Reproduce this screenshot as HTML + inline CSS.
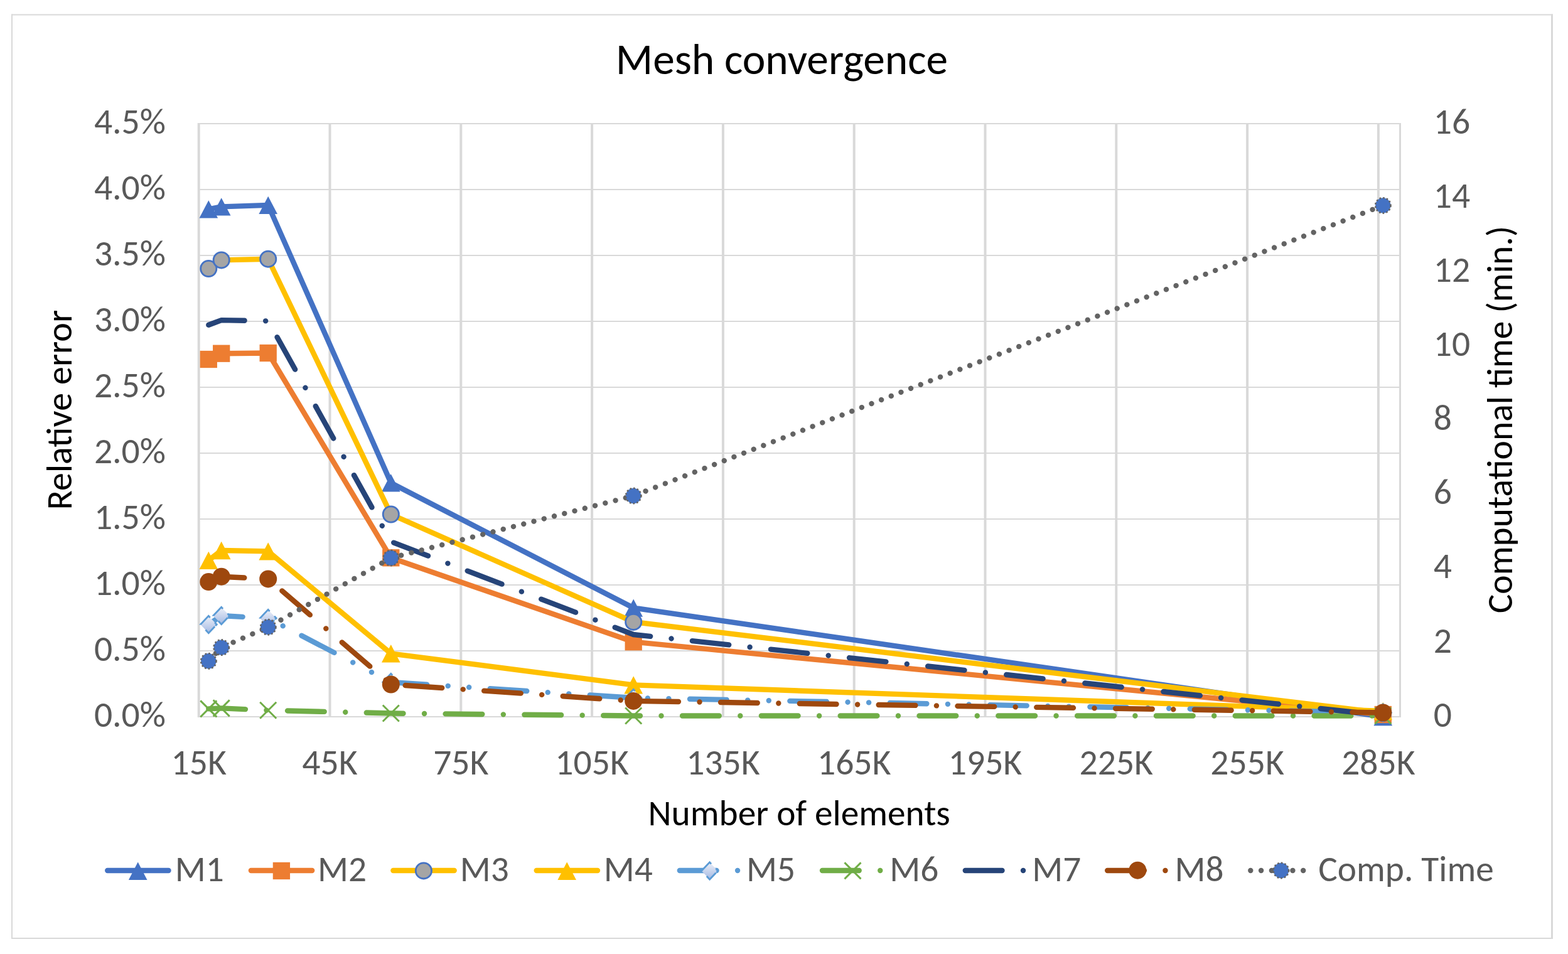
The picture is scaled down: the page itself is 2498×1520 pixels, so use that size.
<!DOCTYPE html>
<html><head><meta charset="utf-8"><title>Mesh convergence</title>
<style>html,body{margin:0;padding:0;background:#fff;}svg{display:block;}text{font-family:Carlito,"Liberation Sans",sans-serif;font-size-adjust:0.47754;}</style></head><body>
<svg width="2498" height="1520" viewBox="0 0 2498 1520">
<defs><linearGradient id="dg" x1="0" y1="0" x2="0" y2="1"><stop offset="0" stop-color="#EEF1F9"/><stop offset="1" stop-color="#A3B8E2"/></linearGradient></defs>
<rect x="0" y="0" width="2498" height="1520" fill="#FFFFFF"/>
<g fill="#D9D9D9">
<rect x="18" y="22.5" width="2456" height="2"/>
<rect x="18" y="1494" width="2456" height="2"/>
<rect x="18" y="22.5" width="2" height="1473.5"/>
<rect x="2471" y="22.5" width="3" height="1473.5"/>
</g>
<g fill="#D9D9D9">
<rect x="315" y="196" width="1917" height="2"/>
<rect x="315" y="301" width="1917" height="2"/>
<rect x="315" y="406" width="1917" height="2"/>
<rect x="315" y="511" width="1917" height="2"/>
<rect x="315" y="616" width="1917" height="2"/>
<rect x="315" y="721" width="1917" height="2"/>
<rect x="315" y="826" width="1917" height="2"/>
<rect x="315" y="931" width="1917" height="2"/>
<rect x="315" y="1036" width="1917" height="2"/>
<rect x="315" y="1141" width="1917" height="2"/>
<rect x="314.7" y="196" width="4" height="947"/>
<rect x="523.5" y="196" width="4" height="947"/>
<rect x="732.3" y="196" width="4" height="947"/>
<rect x="941.1" y="196" width="4" height="947"/>
<rect x="1149.9" y="196" width="4" height="947"/>
<rect x="1358.7" y="196" width="4" height="947"/>
<rect x="1567.5" y="196" width="4" height="947"/>
<rect x="1776.3" y="196" width="4" height="947"/>
<rect x="1985.1" y="196" width="4" height="947"/>
<rect x="2193.9" y="196" width="4" height="947"/>
<rect x="2229" y="196" width="3" height="947"/>
</g>
<g font-family="Carlito, 'Liberation Sans', sans-serif">
<text x="980.8" y="118.3" font-size="68.9" fill="#000000" text-anchor="start" textLength="529.33" lengthAdjust="spacingAndGlyphs">Mesh convergence</text>
<text x="264" y="212.7" font-size="57.6" fill="#595959" text-anchor="end" textLength="114.1" lengthAdjust="spacingAndGlyphs">4.5%</text>
<text x="264" y="317.7" font-size="57.6" fill="#595959" text-anchor="end" textLength="114.1" lengthAdjust="spacingAndGlyphs">4.0%</text>
<text x="264" y="422.7" font-size="57.6" fill="#595959" text-anchor="end" textLength="114.1" lengthAdjust="spacingAndGlyphs">3.5%</text>
<text x="264" y="527.7" font-size="57.6" fill="#595959" text-anchor="end" textLength="114.1" lengthAdjust="spacingAndGlyphs">3.0%</text>
<text x="264" y="632.7" font-size="57.6" fill="#595959" text-anchor="end" textLength="114.1" lengthAdjust="spacingAndGlyphs">2.5%</text>
<text x="264" y="737.7" font-size="57.6" fill="#595959" text-anchor="end" textLength="114.1" lengthAdjust="spacingAndGlyphs">2.0%</text>
<text x="264" y="842.7" font-size="57.6" fill="#595959" text-anchor="end" textLength="114.1" lengthAdjust="spacingAndGlyphs">1.5%</text>
<text x="264" y="947.7" font-size="57.6" fill="#595959" text-anchor="end" textLength="114.1" lengthAdjust="spacingAndGlyphs">1.0%</text>
<text x="264" y="1052.7" font-size="57.6" fill="#595959" text-anchor="end" textLength="114.1" lengthAdjust="spacingAndGlyphs">0.5%</text>
<text x="264" y="1157.7" font-size="57.6" fill="#595959" text-anchor="end" textLength="114.1" lengthAdjust="spacingAndGlyphs">0.0%</text>
<text x="2283.7" y="212.7" font-size="57.6" fill="#595959" text-anchor="start" textLength="58.39" lengthAdjust="spacingAndGlyphs">16</text>
<text x="2283.7" y="330.82" font-size="57.6" fill="#595959" text-anchor="start" textLength="58.39" lengthAdjust="spacingAndGlyphs">14</text>
<text x="2283.7" y="448.95" font-size="57.6" fill="#595959" text-anchor="start" textLength="58.39" lengthAdjust="spacingAndGlyphs">12</text>
<text x="2283.7" y="567.08" font-size="57.6" fill="#595959" text-anchor="start" textLength="58.39" lengthAdjust="spacingAndGlyphs">10</text>
<text x="2283.7" y="685.2" font-size="57.6" fill="#595959" text-anchor="start" textLength="29.19" lengthAdjust="spacingAndGlyphs">8</text>
<text x="2283.7" y="803.33" font-size="57.6" fill="#595959" text-anchor="start" textLength="29.19" lengthAdjust="spacingAndGlyphs">6</text>
<text x="2283.7" y="921.45" font-size="57.6" fill="#595959" text-anchor="start" textLength="29.19" lengthAdjust="spacingAndGlyphs">4</text>
<text x="2283.7" y="1039.58" font-size="57.6" fill="#595959" text-anchor="start" textLength="29.19" lengthAdjust="spacingAndGlyphs">2</text>
<text x="2283.7" y="1157.7" font-size="57.6" fill="#595959" text-anchor="start" textLength="29.19" lengthAdjust="spacingAndGlyphs">0</text>
<text x="316.7" y="1233.9" font-size="57.6" fill="#595959" text-anchor="middle" textLength="88.31" lengthAdjust="spacingAndGlyphs">15K</text>
<text x="525.5" y="1233.9" font-size="57.6" fill="#595959" text-anchor="middle" textLength="88.31" lengthAdjust="spacingAndGlyphs">45K</text>
<text x="734.3" y="1233.9" font-size="57.6" fill="#595959" text-anchor="middle" textLength="88.31" lengthAdjust="spacingAndGlyphs">75K</text>
<text x="943.1" y="1233.9" font-size="57.6" fill="#595959" text-anchor="middle" textLength="117.5" lengthAdjust="spacingAndGlyphs">105K</text>
<text x="1151.9" y="1233.9" font-size="57.6" fill="#595959" text-anchor="middle" textLength="117.5" lengthAdjust="spacingAndGlyphs">135K</text>
<text x="1360.7" y="1233.9" font-size="57.6" fill="#595959" text-anchor="middle" textLength="117.5" lengthAdjust="spacingAndGlyphs">165K</text>
<text x="1569.5" y="1233.9" font-size="57.6" fill="#595959" text-anchor="middle" textLength="117.5" lengthAdjust="spacingAndGlyphs">195K</text>
<text x="1778.3" y="1233.9" font-size="57.6" fill="#595959" text-anchor="middle" textLength="117.5" lengthAdjust="spacingAndGlyphs">225K</text>
<text x="1987.1" y="1233.9" font-size="57.6" fill="#595959" text-anchor="middle" textLength="117.5" lengthAdjust="spacingAndGlyphs">255K</text>
<text x="2195.9" y="1233.9" font-size="57.6" fill="#595959" text-anchor="middle" textLength="117.5" lengthAdjust="spacingAndGlyphs">285K</text>
<text x="0" y="0" font-size="57.3" fill="#000000" text-anchor="middle" textLength="318.56" lengthAdjust="spacingAndGlyphs" transform="translate(113.9,653.2) rotate(-90)">Relative error</text>
<text x="1273.2" y="1315.3" font-size="57.3" fill="#000000" text-anchor="middle" textLength="481.23" lengthAdjust="spacingAndGlyphs">Number of elements</text>
<text x="0" y="0" font-size="57.3" fill="#000000" text-anchor="middle" textLength="617.43" lengthAdjust="spacingAndGlyphs" transform="translate(2409,668.6) rotate(-90)">Computational time (min.)</text>
</g>
<path d="M332.3,333.4 L352.7,329.4 L427.2,326.9 L622.8,769.4 L1009.2,968.6 L2203.3,1142" fill="none" stroke="#4472C4" stroke-width="8.4" stroke-linecap="round" stroke-linejoin="round"/>
<polygon points="332.3,319.2 347.1,347.6 317.5,347.6" fill="#4472C4"/>
<polygon points="352.7,315.2 367.5,343.6 337.9,343.6" fill="#4472C4"/>
<polygon points="427.2,312.7 442,341.1 412.4,341.1" fill="#4472C4"/>
<polygon points="622.8,755.2 637.6,783.6 608,783.6" fill="#4472C4"/>
<polygon points="1009.2,954.4 1024,982.8 994.4,982.8" fill="#4472C4"/>
<polygon points="2203.3,1127.8 2218.1,1156.2 2188.5,1156.2" fill="#4472C4"/>
<path d="M332.3,572.5 L352.7,563.2 L427.2,562.5 L622.8,888.8 L1009.2,1022.7 L2203.3,1138.5" fill="none" stroke="#ED7D31" stroke-width="8.4" stroke-linecap="round" stroke-linejoin="round"/>
<rect x="318.65" y="558.85" width="27.3" height="27.3" fill="#ED7D31"/>
<rect x="339.05" y="549.55" width="27.3" height="27.3" fill="#ED7D31"/>
<rect x="413.55" y="548.85" width="27.3" height="27.3" fill="#ED7D31"/>
<rect x="609.15" y="875.15" width="27.3" height="27.3" fill="#ED7D31"/>
<rect x="995.55" y="1009.05" width="27.3" height="27.3" fill="#ED7D31"/>
<rect x="2189.65" y="1124.85" width="27.3" height="27.3" fill="#ED7D31"/>
<path d="M332.3,428 L352.7,414.4 L427.2,412.7 L622.8,819.5 L1009.2,990.9 L2203.3,1136" fill="none" stroke="#FFC000" stroke-width="8.4" stroke-linecap="round" stroke-linejoin="round"/>
<circle cx="332.3" cy="428" r="12.6" fill="#A5A5A5" stroke="#4472C4" stroke-width="2.8"/>
<circle cx="352.7" cy="414.4" r="12.6" fill="#A5A5A5" stroke="#4472C4" stroke-width="2.8"/>
<circle cx="427.2" cy="412.7" r="12.6" fill="#A5A5A5" stroke="#4472C4" stroke-width="2.8"/>
<circle cx="622.8" cy="819.5" r="12.6" fill="#A5A5A5" stroke="#4472C4" stroke-width="2.8"/>
<circle cx="1009.2" cy="990.9" r="12.6" fill="#A5A5A5" stroke="#4472C4" stroke-width="2.8"/>
<circle cx="2203.3" cy="1136" r="12.6" fill="#A5A5A5" stroke="#4472C4" stroke-width="2.8"/>
<path d="M332.3,892.9 L352.7,877 L427.2,878.4 L622.8,1041.3 L1009.2,1091.4 L2203.3,1133" fill="none" stroke="#FFC000" stroke-width="8.4" stroke-linecap="round" stroke-linejoin="round"/>
<polygon points="332.3,878.7 347.1,907.1 317.5,907.1" fill="#FFC000"/>
<polygon points="352.7,862.8 367.5,891.2 337.9,891.2" fill="#FFC000"/>
<polygon points="427.2,864.2 442,892.6 412.4,892.6" fill="#FFC000"/>
<polygon points="622.8,1027.1 637.6,1055.5 608,1055.5" fill="#FFC000"/>
<polygon points="1009.2,1077.2 1024,1105.6 994.4,1105.6" fill="#FFC000"/>
<polygon points="2203.3,1118.8 2218.1,1147.2 2188.5,1147.2" fill="#FFC000"/>
<path d="M332.3,995 L352.7,981 L427.2,985 L622.8,1087 L1009.2,1112 L2203.3,1135.5" fill="none" stroke="#5B9BD5" stroke-width="8.4" stroke-linecap="round" stroke-linejoin="round" stroke-dasharray="58.69 33.56 0.01 33.56 0.01 33.56"/>
<path d="M319.3,995 L332.3,981.4 L345.3,995 L332.3,1008.6 Z" fill="url(#dg)" stroke="#5B9BD5" stroke-width="2.8" stroke-dasharray="22.3 10.8 7.5 1.5 21.3 11.8"/>
<path d="M339.7,981 L352.7,967.4 L365.7,981 L352.7,994.6 Z" fill="url(#dg)" stroke="#5B9BD5" stroke-width="2.8" stroke-dasharray="22.3 10.8 7.5 1.5 21.3 11.8"/>
<path d="M414.2,985 L427.2,971.4 L440.2,985 L427.2,998.6 Z" fill="url(#dg)" stroke="#5B9BD5" stroke-width="2.8" stroke-dasharray="22.3 10.8 7.5 1.5 21.3 11.8"/>
<path d="M609.8,1087 L622.8,1073.4 L635.8,1087 L622.8,1100.6 Z" fill="url(#dg)" stroke="#5B9BD5" stroke-width="2.8" stroke-dasharray="22.3 10.8 7.5 1.5 21.3 11.8"/>
<path d="M996.2,1112 L1009.2,1098.4 L1022.2,1112 L1009.2,1125.6 Z" fill="url(#dg)" stroke="#5B9BD5" stroke-width="2.8" stroke-dasharray="22.3 10.8 7.5 1.5 21.3 11.8"/>
<path d="M2190.3,1135.5 L2203.3,1121.9 L2216.3,1135.5 L2203.3,1149.1 Z" fill="url(#dg)" stroke="#5B9BD5" stroke-width="2.8" stroke-dasharray="22.3 10.8 7.5 1.5 21.3 11.8"/>
<path d="M332.3,1129.4 L352.7,1128.4 L427.2,1131.7 L622.8,1136.5 L1009.2,1140.5 L2203.3,1140.5" fill="none" stroke="#70AD47" stroke-width="8.4" stroke-linecap="round" stroke-linejoin="round" stroke-dasharray="58.69 33.56 0.01 33.56"/>
<path d="M319.3,1116.4 L345.3,1142.4 M319.3,1142.4 L345.3,1116.4" stroke="#70AD47" stroke-width="2.9" fill="none"/>
<path d="M339.7,1115.4 L365.7,1141.4 M339.7,1141.4 L365.7,1115.4" stroke="#70AD47" stroke-width="2.9" fill="none"/>
<path d="M414.2,1118.7 L440.2,1144.7 M414.2,1144.7 L440.2,1118.7" stroke="#70AD47" stroke-width="2.9" fill="none"/>
<path d="M609.8,1123.5 L635.8,1149.5 M609.8,1149.5 L635.8,1123.5" stroke="#70AD47" stroke-width="2.9" fill="none"/>
<path d="M996.2,1127.5 L1022.2,1153.5 M996.2,1153.5 L1022.2,1127.5" stroke="#70AD47" stroke-width="2.9" fill="none"/>
<path d="M2190.3,1127.5 L2216.3,1153.5 M2190.3,1153.5 L2216.3,1127.5" stroke="#70AD47" stroke-width="2.9" fill="none"/>
<path d="M332.3,517.7 L352.7,510.1 L427.2,511.4 L622.8,862.9 L1009.2,1011 L2203.3,1139.7" fill="none" stroke="#264478" stroke-width="8.4" stroke-linecap="round" stroke-linejoin="round" stroke-dasharray="58.69 33.56 0.01 33.56"/>
<path d="M332.3,927.1 L352.7,918.7 L427.2,922.4 L622.8,1090.5 L1009.2,1116.9 L2203.3,1135.5" fill="none" stroke="#9E480E" stroke-width="8.4" stroke-linecap="round" stroke-linejoin="round" stroke-dasharray="58.69 33.56 0.01 33.56"/>
<circle cx="332.3" cy="927.1" r="14" fill="#9E480E"/>
<circle cx="352.7" cy="918.7" r="14" fill="#9E480E"/>
<circle cx="427.2" cy="922.4" r="14" fill="#9E480E"/>
<circle cx="622.8" cy="1090.5" r="14" fill="#9E480E"/>
<circle cx="1009.2" cy="1116.9" r="14" fill="#9E480E"/>
<circle cx="2203.3" cy="1135.5" r="14" fill="#9E480E"/>
<path d="M332.3,1053.3 L352.7,1031.6 L427.2,999.2 L622.8,889 L1009.2,790 L2203.3,327.4" fill="none" stroke="#636363" stroke-width="8.4" stroke-linecap="round" stroke-linejoin="round" stroke-dasharray="0.01 16.772"/>
<circle cx="332.3" cy="1053.3" r="12.2" fill="#4472C4"/><circle cx="332.3" cy="1053.3" r="12.2" fill="none" stroke="#636363" stroke-width="2.6" stroke-dasharray="2.6 3.1"/>
<circle cx="352.7" cy="1031.6" r="12.2" fill="#4472C4"/><circle cx="352.7" cy="1031.6" r="12.2" fill="none" stroke="#636363" stroke-width="2.6" stroke-dasharray="2.6 3.1"/>
<circle cx="427.2" cy="999.2" r="12.2" fill="#4472C4"/><circle cx="427.2" cy="999.2" r="12.2" fill="none" stroke="#636363" stroke-width="2.6" stroke-dasharray="2.6 3.1"/>
<circle cx="622.8" cy="889" r="12.2" fill="#4472C4"/><circle cx="622.8" cy="889" r="12.2" fill="none" stroke="#636363" stroke-width="2.6" stroke-dasharray="2.6 3.1"/>
<circle cx="1009.2" cy="790" r="12.2" fill="#4472C4"/><circle cx="1009.2" cy="790" r="12.2" fill="none" stroke="#636363" stroke-width="2.6" stroke-dasharray="2.6 3.1"/>
<circle cx="2203.3" cy="327.4" r="12.2" fill="#4472C4"/><circle cx="2203.3" cy="327.4" r="12.2" fill="none" stroke="#636363" stroke-width="2.6" stroke-dasharray="2.6 3.1"/>
<path d="M171.2,1387 L268.5,1387" fill="none" stroke="#4472C4" stroke-width="8.4" stroke-linecap="round" stroke-linejoin="round"/>
<polygon points="219.7,1373.5 234.5,1401.9 204.9,1401.9" fill="#4472C4"/>
<g font-family="Carlito, 'Liberation Sans', sans-serif"><text x="278.8" y="1403.9" font-size="57.3" fill="#595959" text-anchor="start" textLength="78.03" lengthAdjust="spacingAndGlyphs">M1</text></g>
<path d="M399.9,1387 L497.2,1387" fill="none" stroke="#ED7D31" stroke-width="8.4" stroke-linecap="round" stroke-linejoin="round"/>
<rect x="434.75" y="1373.85" width="27.3" height="27.3" fill="#ED7D31"/>
<g font-family="Carlito, 'Liberation Sans', sans-serif"><text x="506.1" y="1403.9" font-size="57.3" fill="#595959" text-anchor="start" textLength="78.03" lengthAdjust="spacingAndGlyphs">M2</text></g>
<path d="M626.4,1387 L723.7,1387" fill="none" stroke="#FFC000" stroke-width="8.4" stroke-linecap="round" stroke-linejoin="round"/>
<circle cx="674.9" cy="1387.4" r="12.6" fill="#A5A5A5" stroke="#4472C4" stroke-width="2.8"/>
<g font-family="Carlito, 'Liberation Sans', sans-serif"><text x="732.8" y="1403.9" font-size="57.3" fill="#595959" text-anchor="start" textLength="78.03" lengthAdjust="spacingAndGlyphs">M3</text></g>
<path d="M854.7,1387 L952,1387" fill="none" stroke="#FFC000" stroke-width="8.4" stroke-linecap="round" stroke-linejoin="round"/>
<polygon points="903.2,1373.5 918,1401.9 888.4,1401.9" fill="#FFC000"/>
<g font-family="Carlito, 'Liberation Sans', sans-serif"><text x="961.7" y="1403.9" font-size="57.3" fill="#595959" text-anchor="start" textLength="78.03" lengthAdjust="spacingAndGlyphs">M4</text></g>
<path d="M1082.8,1387 L1180.1,1387" fill="none" stroke="#5B9BD5" stroke-width="8.4" stroke-linecap="round" stroke-linejoin="round" stroke-dasharray="58.69 33.56 0.01 33.56 0.01 33.56"/>
<path d="M1117.6,1387.5 L1130.6,1373.9 L1143.6,1387.5 L1130.6,1401.1 Z" fill="url(#dg)" stroke="#5B9BD5" stroke-width="2.8" stroke-dasharray="22.3 10.8 7.5 1.5 21.3 11.8"/>
<g font-family="Carlito, 'Liberation Sans', sans-serif"><text x="1188.9" y="1403.9" font-size="57.3" fill="#595959" text-anchor="start" textLength="78.03" lengthAdjust="spacingAndGlyphs">M5</text></g>
<path d="M1310,1387 L1407.3,1387" fill="none" stroke="#70AD47" stroke-width="8.4" stroke-linecap="round" stroke-linejoin="round" stroke-dasharray="58.69 33.56 0.01 33.56"/>
<path d="M1345.5,1374.4 L1371.5,1400.4 M1345.5,1400.4 L1371.5,1374.4" stroke="#70AD47" stroke-width="2.9" fill="none"/>
<g font-family="Carlito, 'Liberation Sans', sans-serif"><text x="1417.3" y="1403.9" font-size="57.3" fill="#595959" text-anchor="start" textLength="78.03" lengthAdjust="spacingAndGlyphs">M6</text></g>
<path d="M1537.8,1387 L1635.1,1387" fill="none" stroke="#264478" stroke-width="8.4" stroke-linecap="round" stroke-linejoin="round" stroke-dasharray="58.69 33.56 0.01 33.56"/>
<g font-family="Carlito, 'Liberation Sans', sans-serif"><text x="1644.3" y="1403.9" font-size="57.3" fill="#595959" text-anchor="start" textLength="78.03" lengthAdjust="spacingAndGlyphs">M7</text></g>
<path d="M1764.2,1387 L1861.5,1387" fill="none" stroke="#9E480E" stroke-width="8.4" stroke-linecap="round" stroke-linejoin="round" stroke-dasharray="58.69 33.56 0.01 33.56"/>
<circle cx="1812.3" cy="1386.7" r="14" fill="#9E480E"/>
<g font-family="Carlito, 'Liberation Sans', sans-serif"><text x="1871.5" y="1403.9" font-size="57.3" fill="#595959" text-anchor="start" textLength="78.03" lengthAdjust="spacingAndGlyphs">M8</text></g>
<path d="M1992.3,1387 L2089.7,1387" fill="none" stroke="#636363" stroke-width="8.4" stroke-linecap="round" stroke-linejoin="round" stroke-dasharray="0.01 16.772"/>
<circle cx="2040.9" cy="1387" r="12.2" fill="#4472C4"/><circle cx="2040.9" cy="1387" r="12.2" fill="none" stroke="#636363" stroke-width="2.6" stroke-dasharray="2.6 3.1"/>
<g font-family="Carlito, 'Liberation Sans', sans-serif"><text x="2100.3" y="1403.9" font-size="57.3" fill="#595959" text-anchor="start" textLength="279.42" lengthAdjust="spacingAndGlyphs">Comp. Time</text></g>
</svg></body></html>
